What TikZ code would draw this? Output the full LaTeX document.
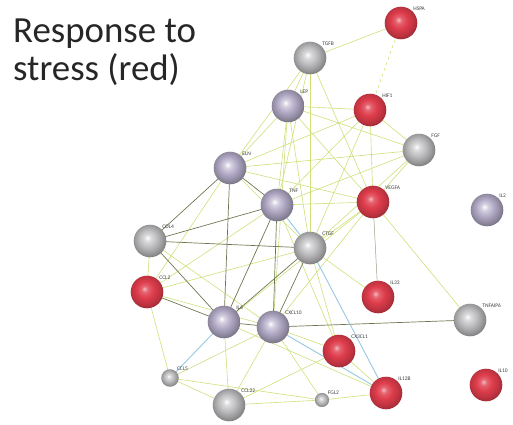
\documentclass[tikz,border=0pt]{standalone}
\usepackage{fontspec}
\setmainfont{Carlito}
\usepackage{tikz}
\usetikzlibrary{shadings}

\definecolor{redball}{RGB}{222,60,75}
\definecolor{greyball}{RGB}{190,190,192}
\definecolor{lilacball}{RGB}{180,172,200}
\definecolor{lightlink}{RGB}{205,225,120}
\definecolor{darklink}{RGB}{110,120,80}
\definecolor{bluelink}{RGB}{150,200,225}

\pgfdeclareradialshading{redglobe}{\pgfqpoint{-4bp}{5bp}}{color(0bp)=(redball!35!white); color(5bp)=(redball!80!white); color(13bp)=(redball); color(22bp)=(redball!85!black); color(28bp)=(redball!70!black); color(50bp)=(redball!70!black)}
\pgfdeclareradialshading{greyglobe}{\pgfqpoint{-4bp}{5bp}}{color(0bp)=(white); color(5bp)=(greyball!55!white); color(13bp)=(greyball); color(22bp)=(greyball!80!black); color(28bp)=(greyball!65!black); color(50bp)=(greyball!65!black)}
\pgfdeclareradialshading{lilacglobe}{\pgfqpoint{-4bp}{5bp}}{color(0bp)=(white); color(5bp)=(lilacball!55!white); color(13bp)=(lilacball); color(22bp)=(lilacball!80!black); color(28bp)=(lilacball!65!black); color(50bp)=(lilacball!65!black)}

\begin{document}
\begin{tikzpicture}[x=0.03528cm, y=-0.03528cm,
	prot/.style={circle, minimum size=1.15cm, inner sep=0pt},
	red/.style={prot, shading=redglobe},
	grey/.style={prot, shading=greyglobe},
	lilac/.style={prot, shading=lilacglobe},
	tiny/.style={minimum size=0.62cm},
	lbl/.style={font=\fontsize{5.5}{6}\selectfont, inner sep=0.5pt, text=black!75},
	lk/.style={lightlink, line width=0.6pt},
	dk/.style={darklink, line width=0.7pt},
	bl/.style={bluelink, line width=0.9pt}]
	\useasboundingbox (0,0) rectangle (513,425);
	\node[anchor=north west, align=left, font=\fontsize{37}{38}\selectfont, text=black!85, inner sep=0pt] (title) at (13,19) {Response to\\stress (red)};

	% proteins
	\coordinate (phspa) at (401,23);
	\coordinate (ptgfb) at (310,58);
	\coordinate (plep) at (288,106);
	\coordinate (phif) at (370,110);
	\coordinate (pfgf) at (419,150);
	\coordinate (peln) at (230,168);
	\coordinate (ptnf) at (277,205);
	\coordinate (pvegfa) at (373,202);
	\coordinate (pil2) at (487,210);
	\coordinate (pcol) at (150,241);
	\coordinate (pctgf) at (310,248);
	\coordinate (pccl) at (147,292);
	\coordinate (pil33) at (378,297);
	\coordinate (pil6) at (224,322);
	\coordinate (pcxcl) at (273,327);
	\coordinate (ptnfaip) at (470,320);
	\coordinate (pcx3) at (339,351);
	\coordinate (pccl5) at (170,378);
	\coordinate (pccl22) at (229,405);
	\coordinate (pfgl) at (322,400);
	\coordinate (pil12) at (386,393);
	\coordinate (pil10) at (486,385);

	% links
	\draw[lk] (phspa) -- (ptgfb);
	\draw[lk, dashed] (phspa) -- (phif);
	\draw[lk] (ptgfb) -- (plep);
	\draw[lk] (ptgfb) -- (peln);
	\draw[lk] (ptgfb) -- (pvegfa);
	\draw[lk] (ptgfb) -- (pctgf);
	\draw[lk] (ptgfb) -- (ptnf);
	\draw[lk] (plep) -- (phif);
	\draw[lk] (plep) -- (peln);
	\draw[lk] (plep) -- (ptnf);
	\draw[lk] (plep) -- (pvegfa);
	\draw[lk] (plep) -- (pctgf);
	\draw[lk] (plep) -- (pcxcl);
	\draw[lk] (plep) -- (pfgf);
	\draw[lk] (phif) -- (pvegfa);
	\draw[lk] (phif) -- (pfgf);
	\draw[lk] (phif) -- (ptnf);
	\draw[lk] (phif) -- (peln);
	\draw[lk] (phif) -- (pctgf);
	\draw[lk] (pfgf) -- (pvegfa);
	\draw[lk] (pfgf) -- (ptnf);
	\draw[lk] (pfgf) -- (peln);
	\draw[lk] (pfgf) -- (pctgf);
	\draw[lk] (peln) -- (pvegfa);
	\draw[lk] (peln) -- (pccl);
	\draw[lk] (peln) -- (pctgf);
	\draw[lk] (ptnf) -- (pvegfa);
	\draw[lk] (ptnf) -- (pccl);
	\draw[lk] (ptnf) -- (pcx3);
	\draw[lk] (pvegfa) -- (ptnfaip);
	\draw[lk] (pvegfa) -- (pctgf);
	\draw[lk] (pvegfa) -- (pil6);
	\draw[lk] (pvegfa) -- (pcxcl);
	\draw[lk] (pcol) -- (pccl);
	\draw[lk] (pcol) -- (pcxcl);
	\draw[lk] (pctgf) -- (pccl);
	\draw[lk] (pctgf) -- (pil33);
	\draw[lk] (pctgf) -- (pcx3);
	\draw[lk] (pccl) -- (pccl5);
	\draw[lk] (pccl) -- (pcxcl);
	\draw[lk] (pil6) -- (pccl22);
	\draw[lk] (pcxcl) -- (pccl5);
	\draw[lk] (pcxcl) -- (pccl22);
	\draw[lk] (pcxcl) -- (pfgl);
	\draw[lk] (pcxcl) -- (pcx3);
	\draw[lk] (pccl5) -- (pccl22);
	\draw[lk] (pccl5) -- (pfgl);
	\draw[lk] (pccl22) -- (pfgl);
	\draw[lk] (pccl22) -- (pcx3);
	\draw[lk] (pfgl) -- (pil12);
	\draw[lk] (pcx3) -- (pil12);
	\draw[lk] (pil6) -- (pil12);
	\draw[dk] (peln) -- (ptnf);
	\draw[dk] (peln) -- (pcol);
	\draw[dk] (peln) -- (pil6);
	\draw[dk] (ptnf) -- (pcol);
	\draw[dk] (ptnf) -- (pil6);
	\draw[dk] (ptnf) -- (pcxcl);
	\draw[dk] (pcol) -- (pctgf);
	\draw[dk] (pcol) -- (pil6);
	\draw[dk] (pctgf) -- (pil6);
	\draw[dk] (pctgf) -- (pcxcl);
	\draw[dk] (pccl) -- (pil6);
	\draw[dk] (pil6) -- (pcxcl);
	\draw[dk] (pcxcl) -- (ptnfaip);
	\draw[darklink!70, line width=0.5pt] (pvegfa) -- (pil33);
	\draw[bl] (ptnf) -- (pctgf);
	\draw[bl] (pil6) -- (pccl5);
	\draw[bl] (pcxcl) -- (pil12);
	\draw[bl] (pctgf) -- (pil12);

	% balls
	\node[red, label={[lbl]above right:HSPA}] (hspa) at (phspa) {};
	\node[grey, label={[lbl]above right:TGFB}] (tgfb) at (ptgfb) {};
	\node[lilac, label={[lbl]above right:LEP}] (lep) at (plep) {};
	\node[red, label={[lbl]above right:HIF1}] (hif) at (phif) {};
	\node[grey, label={[lbl]above right:FGF}] (fgf) at (pfgf) {};
	\node[lilac, label={[lbl]above right:ELN}] (eln) at (peln) {};
	\node[lilac, label={[lbl]above right:TNF}] (tnf) at (ptnf) {};
	\node[red, label={[lbl]above right:VEGFA}] (vegfa) at (pvegfa) {};
	\node[lilac, label={[lbl]above right:IL2}] (il2) at (pil2) {};
	\node[grey, label={[lbl]above right:COL4}] (col) at (pcol) {};
	\node[grey, label={[lbl]above right:CTGF}] (ctgf) at (pctgf) {};
	\node[red, label={[lbl]above right:CCL2}] (ccl) at (pccl) {};
	\node[red, label={[lbl]above right:IL33}] (il33) at (pil33) {};
	\node[lilac, label={[lbl]above right:IL6}] (il6) at (pil6) {};
	\node[lilac, label={[lbl]above right:CXCL10}] (cxcl) at (pcxcl) {};
	\node[grey, label={[lbl]above right:TNFAIP6}] (tnfaip) at (ptnfaip) {};
	\node[red, label={[lbl]above right:CX3CL1}] (cx3) at (pcx3) {};
	\node[grey, tiny, label={[lbl]above right:CCL5}] (ccl5) at (pccl5) {};
	\node[grey, label={[lbl]above right:CCL22}] (ccl22) at (pccl22) {};
	\node[grey, tiny, minimum size=0.5cm, label={[lbl]above right:FGL2}] (fgl) at (pfgl) {};
	\node[red, label={[lbl]above right:IL12B}] (il12) at (pil12) {};
	\node[red, label={[lbl]above right:IL10}] (il10) at (pil10) {};
\end{tikzpicture}
\end{document}
